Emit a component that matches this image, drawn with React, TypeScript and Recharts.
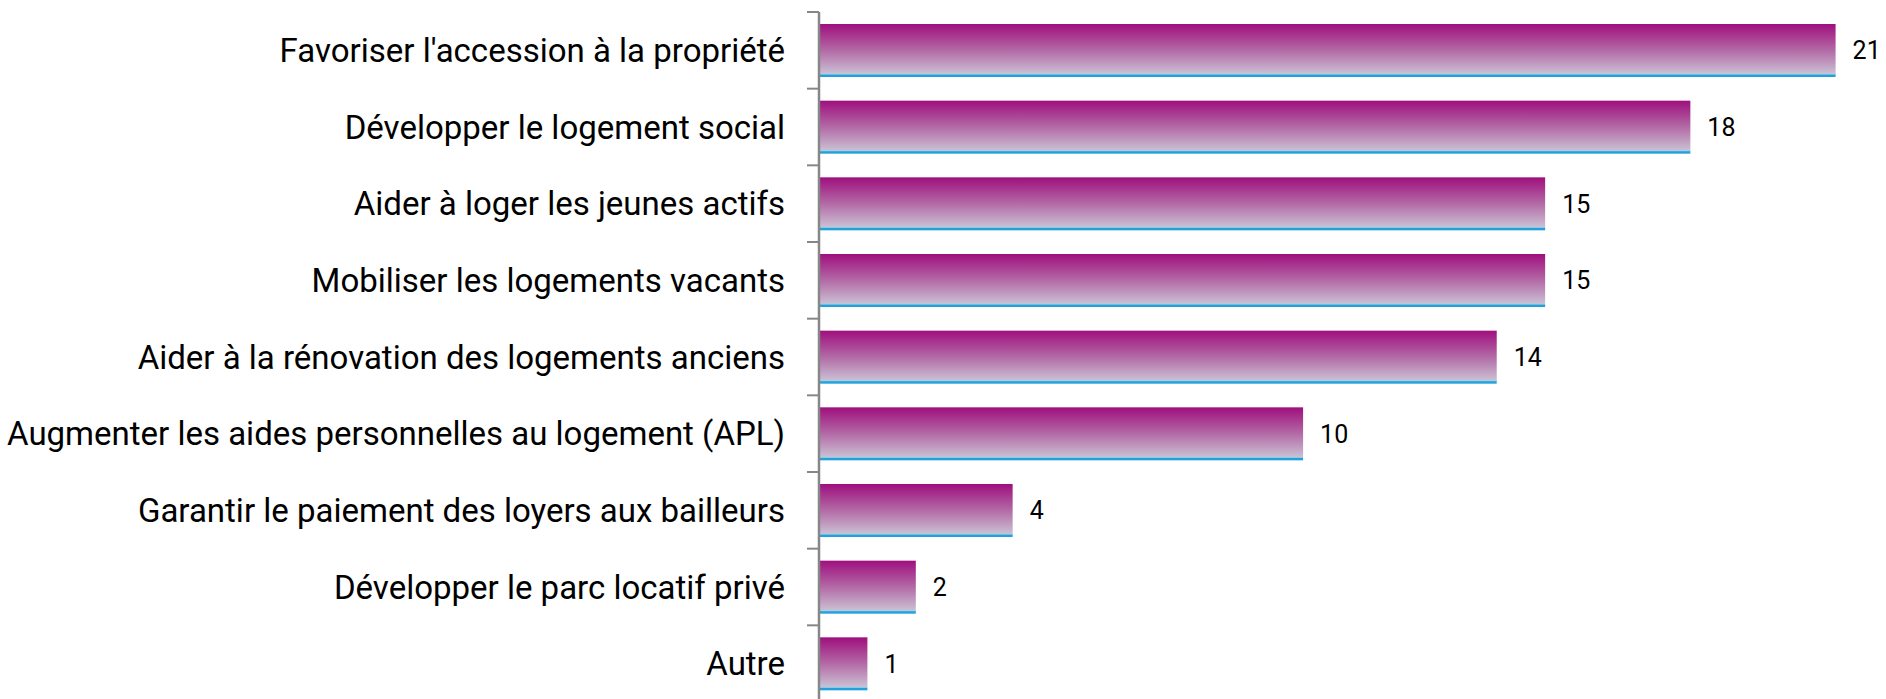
import React from "react";
import { BarChart, Bar, XAxis, YAxis, LabelList } from "recharts";

const categories = [
  "Favoriser l'accession à la propriété",
  "Développer le logement social",
  "Aider à loger les jeunes actifs",
  "Mobiliser les logements vacants",
  "Aider à la rénovation des logements anciens",
  "Augmenter les aides personnelles au logement (APL)",
  "Garantir le paiement des loyers aux bailleurs",
  "Développer le parc locatif privé",
  "Autre",
];
const values = [21, 18, 15, 15, 14, 10, 4, 2, 1];

const data = categories.map((name, i) => ({ name, value: values[i] }));

const W = 1886;
const H = 699;
const MARGIN = { top: 12, right: 2, bottom: -3, left: 0 };
const AXIS_W = 819;
const BAND = (H - MARGIN.top - MARGIN.bottom) / categories.length;
const FONT = "Roboto, 'Open Sans', sans-serif";
const TICK_MARGIN = 34;

const CategoryTick = (props: any) => {
  const { x, y, payload, index } = props;
  const half = payload && payload.offset ? payload.offset : BAND / 2;
  const axisX = x + TICK_MARGIN;
  return (
    <g>
      <text
        x={x}
        y={y}
        dy="0.355em"
        textAnchor="end"
        fill="#000"
        fontSize={33}
        fontFamily={FONT}
      >
        {payload.value}
      </text>
      <line x1={axisX - 12} x2={axisX} y1={y - half} y2={y - half} stroke="#878787" strokeWidth={2} />
      {index === categories.length - 1 ? (
        <line x1={axisX - 12} x2={axisX} y1={y + half} y2={y + half} stroke="#878787" strokeWidth={2} />
      ) : null}
    </g>
  );
};

const BarShape = (props: any) => {
  const { x, y, width, height } = props;
  if (!width || width <= 0) return null;
  const line = 2.5;
  return (
    <g>
      <rect x={x} y={y} width={width} height={height - line} fill="url(#barGrad)" />
      <rect x={x} y={y + height - line - 1} width={width} height={1} fill="#9fd0ea" />
      <rect x={x} y={y + height - line} width={width} height={line} fill="#23a0da" />
    </g>
  );
};

export default function App() {
  return (
    <div style={{ position: "absolute", left: 0, top: 0, width: W, height: H, background: "#fff" }}>
      <BarChart width={W} height={H} data={data} layout="vertical" margin={MARGIN}>
        <defs>
          <linearGradient id="barGrad" x1="0" y1="0" x2="0" y2="1">
            <stop offset="0%" stopColor="#9f0f7e" />
            <stop offset="50%" stopColor="#b266a4" />
            <stop offset="100%" stopColor="#cbc3d5" />
          </linearGradient>
        </defs>
        <XAxis type="number" domain={[0, 22]} hide />
        <YAxis
          type="category"
          dataKey="name"
          width={AXIS_W}
          axisLine={{ stroke: "#878787", strokeWidth: 2.5 }}
          tickLine={false}
          tickSize={0}
          tickMargin={TICK_MARGIN}
          tick={<CategoryTick />}
          interval={0}
        />
        <Bar dataKey="value" barSize={53} shape={<BarShape />} isAnimationActive={false}>
          <LabelList
            dataKey="value"
            position="right"
            offset={17}
            fill="#000"
            fontSize={25}
            fontFamily={FONT}
          />
        </Bar>
      </BarChart>
    </div>
  );
}
